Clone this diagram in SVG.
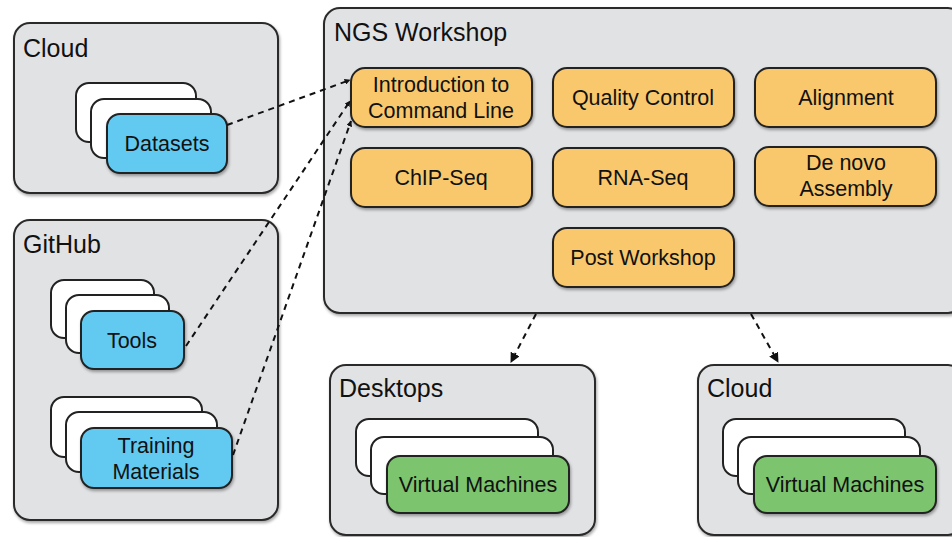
<svg xmlns="http://www.w3.org/2000/svg" width="952" height="537" viewBox="0 0 952 537">
<defs>
<filter id="sh" x="-10%" y="-10%" width="130%" height="130%">
<feDropShadow dx="1" dy="2" stdDeviation="1.5" flood-color="#000" flood-opacity="0.35"/>
</filter>
<marker id="ah" viewBox="0 0 10 10" refX="9" refY="5" markerWidth="6" markerHeight="6" orient="auto" markerUnits="userSpaceOnUse">
<path d="M0,0 L10,5 L0,10 z" fill="#111"/>
</marker>
<marker id="ah2" viewBox="0 0 10 10" refX="9" refY="5" markerWidth="10" markerHeight="10" orient="auto" markerUnits="userSpaceOnUse">
<path d="M0,0 L10,5 L0,10 z" fill="#111"/>
</marker>
</defs>
<style>
.panel{fill:#e1e2e4;stroke:#2a2a2a;stroke-width:2;filter:url(#sh)}
.card{fill:#fff;stroke:#222;stroke-width:2}
.blue{fill:#62caf1;stroke:#222;stroke-width:2;filter:url(#sh)}
.orange{fill:#f9c86d;stroke:#222;stroke-width:2;filter:url(#sh)}
.green{fill:#7cc46e;stroke:#222;stroke-width:2;filter:url(#sh)}
.title{font-family:"Liberation Sans",Arial,sans-serif;font-size:25px;fill:#111}
.lbl{font-family:"Liberation Sans",Arial,sans-serif;font-size:21.5px;fill:#111;text-anchor:middle}
.conn{fill:none;stroke:#111;stroke-width:2;stroke-dasharray:6 5}
</style>
<rect width="952" height="537" fill="#fff"/>

<g id="cloud-top">
<rect class="panel" x="14" y="23" width="264" height="170" rx="16"/>
<text class="title" x="23" y="57">Cloud</text>
</g>
<g id="datasets">
<rect class="card" x="76" y="83" width="120" height="59" rx="13"/>
<rect class="card" x="91" y="99" width="120" height="59" rx="13"/>
<rect class="blue" x="107" y="114" width="120" height="59" rx="13"/>
<text class="lbl" x="167" y="151">Datasets</text>
</g>

<g id="github">
<rect class="panel" x="14" y="220" width="264" height="300" rx="16"/>
<text class="title" x="23" y="253">GitHub</text>
</g>
<g id="tools">
<rect class="card" x="51" y="280" width="103" height="58" rx="13"/>
<rect class="card" x="66" y="295" width="103" height="58" rx="13"/>
<rect class="blue" x="81" y="311" width="103" height="58" rx="13"/>
<text class="lbl" x="132" y="348">Tools</text>
</g>
<g id="training">
<rect class="card" x="51" y="397" width="151" height="60" rx="13"/>
<rect class="card" x="66" y="412" width="151" height="60" rx="13"/>
<rect class="blue" x="81" y="428" width="151" height="60" rx="13"/>
<text class="lbl" x="156" y="453">Training</text>
<text class="lbl" x="156" y="479">Materials</text>
</g>

<g id="ngs">
<rect class="panel" x="324" y="8" width="640" height="305" rx="16"/>
<text class="title" x="334" y="41">NGS Workshop</text>
</g>
<g id="intro">
<rect class="orange" x="351" y="68" width="181" height="59" rx="14"/>
<text class="lbl" x="441" y="92">Introduction to</text>
<text class="lbl" x="441" y="118">Command Line</text>
</g>
<g id="qc">
<rect class="orange" x="553" y="68" width="181" height="59" rx="14"/>
<text class="lbl" x="643" y="105">Quality Control</text>
</g>
<g id="alignment">
<rect class="orange" x="755" y="68" width="181" height="59" rx="14"/>
<text class="lbl" x="846" y="105">Alignment</text>
</g>
<g id="chipseq">
<rect class="orange" x="351" y="148" width="181" height="59" rx="14"/>
<text class="lbl" x="441" y="185">ChIP-Seq</text>
</g>
<g id="rnaseq">
<rect class="orange" x="553" y="148" width="181" height="59" rx="14"/>
<text class="lbl" x="643" y="185">RNA-Seq</text>
</g>
<g id="denovo">
<rect class="orange" x="755" y="147" width="181" height="59" rx="14"/>
<text class="lbl" x="846" y="170">De novo</text>
<text class="lbl" x="846" y="196">Assembly</text>
</g>
<g id="post">
<rect class="orange" x="553" y="228" width="181" height="59" rx="14"/>
<text class="lbl" x="643" y="265">Post Workshop</text>
</g>

<g id="desktops">
<rect class="panel" x="330" y="365" width="265" height="170" rx="16"/>
<text class="title" x="339" y="397">Desktops</text>
</g>
<g id="vm-desktops">
<rect class="card" x="356" y="419" width="182" height="57" rx="13"/>
<rect class="card" x="371" y="437" width="182" height="57" rx="13"/>
<rect class="green" x="387" y="456" width="182" height="57" rx="13"/>
<text class="lbl" x="478" y="492">Virtual Machines</text>
</g>

<g id="cloud-bottom">
<rect class="panel" x="698" y="365" width="266" height="170" rx="16"/>
<text class="title" x="707" y="397">Cloud</text>
</g>
<g id="vm-cloud">
<rect class="card" x="723" y="419" width="182" height="57" rx="13"/>
<rect class="card" x="738" y="437" width="182" height="57" rx="13"/>
<rect class="green" x="754" y="456" width="182" height="57" rx="13"/>
<text class="lbl" x="845" y="492">Virtual Machines</text>
</g>

<g id="connectors">
<path class="conn" d="M227,125 L350,80" marker-end="url(#ah)"/>
<path class="conn" d="M186,346 L350,101" marker-end="url(#ah)"/>
<path class="conn" d="M233,455 L351,121" marker-end="url(#ah)"/>
<path class="conn" d="M536,314 L511,362" marker-end="url(#ah2)"/>
<path class="conn" d="M751,314 L778,362" marker-end="url(#ah2)"/>
</g>
</svg>
